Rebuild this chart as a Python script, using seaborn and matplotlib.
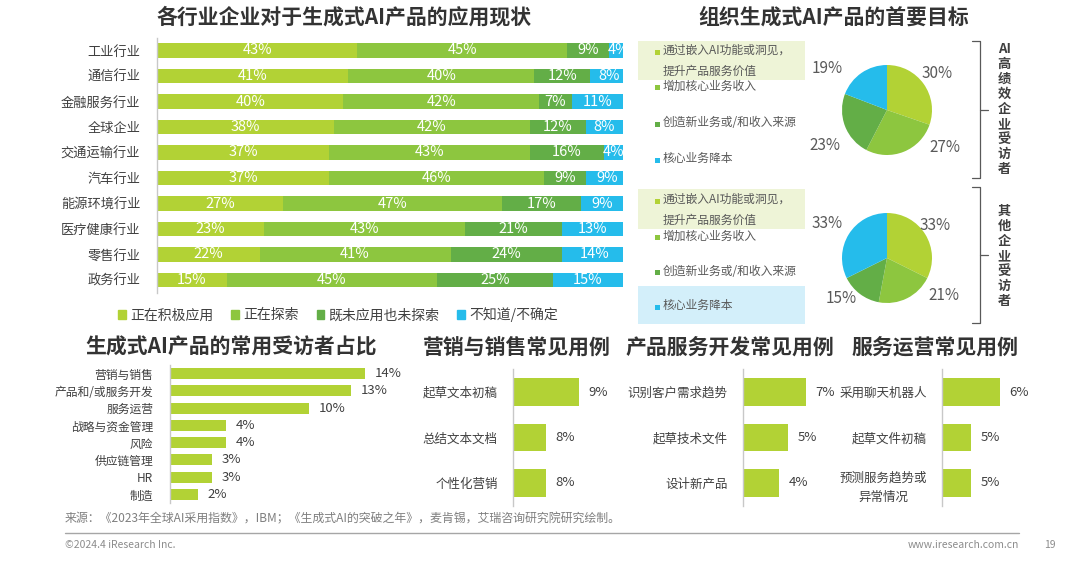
import matplotlib
matplotlib.use("Agg")
import matplotlib.pyplot as plt
import numpy as np
import pandas as pd
import seaborn as sns
from matplotlib.patches import Rectangle
from matplotlib.lines import Line2D

# ---- data ----
industries = ['工业行业', '通信行业', '金融服务行业', '全球企业', '交通运输行业', '汽车行业',
              '能源环境行业', '医疗健康行业', '零售行业', '政务行业']
status_names = ['正在积极应用', '正在探索', '既未应用也未探索', '不知道/不确定']
active = [43, 41, 40, 38, 37, 37, 27, 23, 22, 15]
exploring = [45, 40, 42, 42, 43, 46, 47, 43, 41, 45]
neither = [9, 12, 7, 12, 16, 9, 17, 21, 24, 25]
unsure = [4, 8, 11, 8, 4, 9, 9, 13, 14, 15]

goal_names = ['通过嵌入AI功能或洞见，\n提升产品服务价值', '增加核心业务收入',
              '创造新业务或/和收入来源', '核心业务降本']
goal_high = [30, 27, 23, 19]
goal_other = [33, 21, 15, 33]

func_names = ['营销与销售', '产品和/或服务开发', '服务运营', '战略与资金管理',
              '风险', '供应链管理', 'HR', '制造']
func_share = [14, 13, 10, 4, 4, 3, 3, 2]

mkt_cases = ['起草文本初稿', '总结文本文档', '个性化营销']
mkt_share = [9, 8, 8]
dev_cases = ['识别客户需求趋势', '起草技术文件', '设计新产品']
dev_share = [7, 5, 4]
ops_cases = ['采用聊天机器人', '起草文件初稿', '预测服务趋势或\n异常情况']
ops_share = [6, 5, 5]

colors = ['#B2D235', '#8DC63F', '#63AE47', '#25BCEB']
title_c = '#333333'
text_c = '#404040'

# where the pie percentage labels sit: (angle in degrees, distance in radii)
pie_label_pos_high = [(36, 1.38), (-33, 1.53), (-150, 1.58), (145, 1.62)]
pie_label_pos_other = [(34, 1.3), (-33, 1.52), (-138, 1.36), (150, 1.53)]

sns.set_theme(style='white')
plt.rcParams['font.family'] = ['Noto Sans CJK SC', 'DejaVu Sans']
plt.rcParams['axes.unicode_minus'] = False

W, H = 1080, 564
fig = plt.figure(figsize=(W / 100, H / 100), dpi=100)


def box(x0, y0, x1, y1):  # pixel box, y measured from top
    return [x0 / W, 1 - y1 / H, (x1 - x0) / W, (y1 - y0) / H]


def fx(x):
    return x / W


def fy(y):
    return 1 - y / H


def clean(ax, spine_c='#c8c8c8'):
    for s in ['top', 'right', 'bottom']:
        ax.spines[s].set_visible(False)
    ax.spines['left'].set_color(spine_c)
    ax.spines['left'].set_linewidth(1)
    ax.set_xticks([])
    ax.set_xlabel('')
    ax.set_ylabel('')
    ax.tick_params(axis='y', length=0, colors=text_c)
    ax.set_facecolor('none')


# ---- titles ----
for tx, ty, s in [(344, 17, '各行业企业对于生成式AI产品的应用现状'),
                  (834, 17, '组织生成式AI产品的首要目标'),
                  (231, 347, '生成式AI产品的常用受访者占比'),
                  (517, 347, '营销与销售常见用例'),
                  (730, 347, '产品服务开发常见用例'),
                  (935, 347, '服务运营常见用例')]:
    fig.text(fx(tx), fy(ty), s, ha='center', va='center', fontsize=15,
             fontweight='bold', color=title_c)

# ---- stacked bars ----
stack = pd.DataFrame({'行业': industries, status_names[0]: active,
                      status_names[1]: exploring, status_names[2]: neither,
                      status_names[3]: unsure})
cum = stack[status_names].cumsum(axis=1)

ax1 = fig.add_axes(box(157, 37.75, 623, 292.75))
for k in range(3, -1, -1):
    sns.barplot(x=cum[status_names[k]], y=stack['行业'], color=colors[k],
                saturation=1, width=0.55, orient='h', errorbar=None,
                linewidth=0, ax=ax1)
ax1.set_xlim(0, 100)
clean(ax1)
ax1.tick_params(axis='y', labelsize=9.5, pad=12)
for i in range(len(industries)):
    for k, name in enumerate(status_names):
        v = stack.loc[i, name]
        ax1.text(cum.loc[i, name] - v / 2, i, f'{v}%', ha='center', va='center',
                 color='white', fontsize=10.5, clip_on=True)

handles = [Rectangle((0, 0), 1, 1, color=c) for c in colors]
fig.legend(handles, status_names, loc='center', bbox_to_anchor=(fx(338), fy(315)),
           ncol=4, frameon=False, fontsize=10, handlelength=0.55, handleheight=0.55,
           handletextpad=0.3, columnspacing=1.3, labelcolor=text_c)

# ---- pies ----
def draw_pie(vals, cy, label_pos):
    ax = fig.add_axes(box(887 - 90, cy - 90, 887 + 90, cy + 90))
    wedges, texts = ax.pie(vals, colors=colors, startangle=90, counterclock=False,
                           labels=[f'{v}%' for v in vals],
                           textprops=dict(fontsize=11, color='#595959'),
                           wedgeprops=dict(linewidth=0))
    for t, (ang, dist) in zip(texts, label_pos):
        a = np.deg2rad(ang)
        t.set_position((dist * np.cos(a), dist * np.sin(a)))
        t.set_ha('center')
        t.set_va('center')
    ax.set_xlim(-2, 2)
    ax.set_ylim(-2, 2)


draw_pie(goal_high, 110, pie_label_pos_high)
draw_pie(goal_other, 258, pie_label_pos_other)


def goal_legend(ys, bgs):
    for y, name, c, bg in zip(ys, goal_names, colors, bgs):
        if bg:
            top, bottom = bg
            fig.add_artist(Rectangle((fx(638), fy(bottom)), 167 / W, (bottom - top) / H,
                                     transform=fig.transFigure,
                                     facecolor=('#EEF4D7' if c == colors[0] else '#D3EFFA'),
                                     edgecolor='none', zorder=0))
        fig.add_artist(Rectangle((fx(655), fy(y + 2.5)), 5 / W, 5 / H,
                                 transform=fig.transFigure, facecolor=c,
                                 edgecolor='none', zorder=2))
        fig.text(fx(663), fy(y - 8), name, ha='left', va='top', fontsize=8.5,
                 color='#595959', linespacing=1.75)


goal_legend([52, 88, 124, 160], [(41, 80), None, None, None])
goal_legend([201, 238, 273, 307], [(189, 229), None, None, (286, 324)])

# brackets and group labels
for top, bottom in [(41, 178), (187, 323)]:
    mid = (top + bottom) / 2
    fig.add_artist(Line2D([fx(972), fx(980), fx(980), fx(972)],
                          [fy(top), fy(top), fy(bottom), fy(bottom)],
                          color='#595959', lw=0.9))
    fig.add_artist(Line2D([fx(980), fx(988)], [fy(mid), fy(mid)],
                          color='#595959', lw=0.9))
fig.text(fx(1004), fy(109), '\n'.join(['AI'] + list('高绩效企业受访者')), ha='center',
         va='center', fontsize=9.5, fontweight='bold', color=text_c, linespacing=1.1)
fig.text(fx(1004), fy(256), '\n'.join(list('其他企业受访者')), ha='center',
         va='center', fontsize=9.5, fontweight='bold', color=text_c, linespacing=1.1)

# ---- function share bars ----
ax3 = fig.add_axes(box(170, 364.9, 400, 503.1))
sns.barplot(x=func_share, y=func_names, color=colors[0], saturation=1, width=0.64,
            orient='h', errorbar=None, linewidth=0, ax=ax3)
ax3.set_xlim(0, 230 / 13.9)
clean(ax3)
ax3.tick_params(axis='y', labelsize=8.5, pad=12)
ax3.bar_label(ax3.containers[0], labels=[f'{v}%' for v in func_share], padding=7,
              fontsize=9.5, color=text_c)

# ---- use case bars ----
for left, names, vals, lo, ppx in [(513, mkt_cases, mkt_share, 7, 33),
                                   (743, dev_cases, dev_share, 0, 9),
                                   (942, ops_cases, ops_share, 4, 29)]:
    ax = fig.add_axes(box(left, 369.25, left + 100, 505.75))
    sns.barplot(x=vals, y=names, color=colors[0], saturation=1, width=0.615,
                orient='h', errorbar=None, linewidth=0, ax=ax)
    ax.set_xlim(lo, lo + 100 / ppx)
    clean(ax)
    ax.tick_params(axis='y', labelsize=9, pad=11)
    for lbl in ax.get_yticklabels():
        lbl.set_multialignment('center')
        lbl.set_linespacing(1.6)
    ax.bar_label(ax.containers[0], labels=[f'{v}%' for v in vals], padding=7,
                 fontsize=9.5, color=text_c)

# ---- footer ----
fig.text(fx(65), fy(519), '来源：《2023年全球AI采用指数》，IBM；《生成式AI的突破之年》，麦肯锡，艾瑞咨询研究院研究绘制。',
         ha='left', va='center', fontsize=8.6, color='#7f7f7f')
fig.add_artist(Line2D([fx(65), fx(1019)], [fy(533), fy(533)], color='#a6a6a6', lw=1))
fig.text(fx(65), fy(545), '©2024.4 iResearch Inc.', ha='left', va='center',
         fontsize=7.5, color='#8c8c8c')
fig.text(fx(1019), fy(545), 'www.iresearch.com.cn', ha='right', va='center',
         fontsize=7.5, color='#8c8c8c')
fig.text(fx(1050), fy(545), '19', ha='center', va='center', fontsize=7.5, color='#8c8c8c')

fig.savefig('out.png', dpi=100)
